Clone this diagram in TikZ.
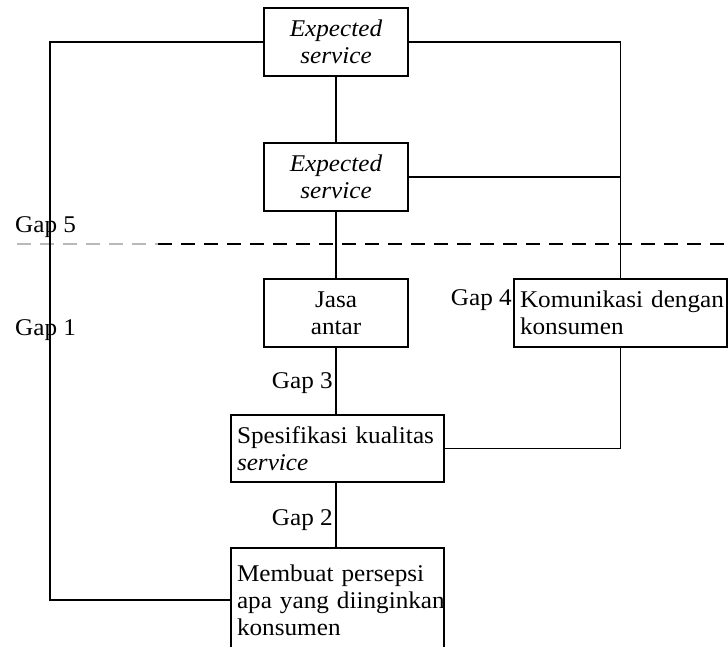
\documentclass[tikz,border=0pt]{standalone}
\usepackage{fontspec}
\setmainfont{Liberation Serif}[FakeStretch=1.05]
\usepackage{tikz}

\tikzset{
  kotak/.style={draw, line width=2pt, minimum width=144pt, minimum height=68pt,
    inner sep=0pt, align=center, font=\fontsize{24}{27}\selectfont},
  kotakkiri/.style={kotak, align=left, inner xsep=6pt, text width=201pt, minimum width=213pt},
  garis/.style={line width=1.8pt},
  label/.style={font=\fontsize{24}{27}\selectfont, inner sep=0pt}
}

\begin{document}
\begin{tikzpicture}[x=1pt, y=-1pt]
    \useasboundingbox (0,0) rectangle (728,646);

    % Kotak-kotak
    \node[kotak] (harapan) at (336,42) {\textit{Expected}\\\textit{service}};
    \node[kotak] (dirasakan) at (336,177) {\textit{Expected}\\\textit{service}};
    \node[kotak] (jasa) at (336,313) {Jasa\\antar};
    \node[kotakkiri] (komunikasi) at (620.5,313) {\mbox{Komunikasi dengan}\\\mbox{konsumen}};
    \node[kotakkiri, minimum height=67pt, inner xsep=4pt] (spesifikasi) at (337.5,448.5) {\mbox{Spesifikasi kualitas}\\\mbox{\textit{service}}};
    \node[kotakkiri, minimum height=104pt, inner xsep=4pt] (persepsi) at (337.5,600) {\mbox{Membuat persepsi}\\\mbox{apa yang diinginkan}\\\mbox{konsumen}};

    % Garis batas (Gap 5)
    \coordinate (batasKiri) at (17,244);
    \coordinate (batasTengah) at (158,244);
    \coordinate (batasKanan) at (728,244);
    \draw[line width=1.2pt, gray!55, dash pattern=on 14pt off 9pt] (batasKiri) -- (batasTengah);
    \draw[line width=1.8pt, dash pattern=on 14pt off 9pt] (batasTengah) -- (batasKanan);

    % Penghubung
    \draw[garis] (harapan.west) -- ++(-213,0) |- (persepsi.west);
    \draw[garis] (harapan.east) -| (komunikasi.north);
    \draw[garis] (dirasakan.east) -- (dirasakan.east -| komunikasi.north);
    \draw[garis] (harapan.south) -- (dirasakan.north);
    \draw[garis] (dirasakan.south) -- (jasa.north);
    \draw[garis] (jasa.south) -- (jasa.south |- spesifikasi.north);
    \draw[garis] (komunikasi.south) |- (spesifikasi.east);
    \draw[garis] (spesifikasi.south -| jasa.south) -- (jasa.south |- persepsi.north);

    % Label gap
    \node[label, anchor=base west] (gap5) at (15,232) {Gap 5};
    \node[label, anchor=base west] (gap1) at (15,335) {Gap 1};
    \node[label, anchor=base east] (gap4) at (512,305) {Gap 4};
    \node[label, anchor=base east] (gap3) at (333,388) {Gap 3};
    \node[label, anchor=base east] (gap2) at (333,525) {Gap 2};
\end{tikzpicture}
\end{document}
